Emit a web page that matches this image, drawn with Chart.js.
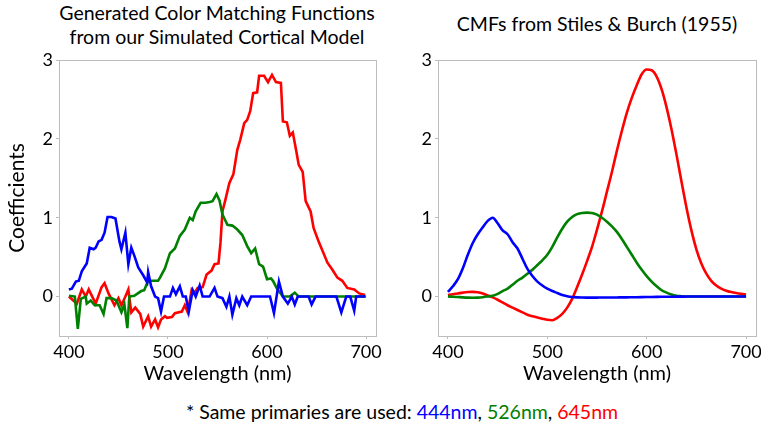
<!DOCTYPE html>
<html>
<head>
<meta charset="utf-8">
<script src="https://cdn.jsdelivr.net/npm/chart.js@4/dist/chart.umd.min.js"></script>
<style>
  html, body { margin: 0; padding: 0; background: #fff; width: 761px; height: 427px; overflow: hidden; position: relative; font-family: Lato, "Open Sans", sans-serif; }
  .box { position: absolute; top: 0; }
  .title { position: absolute; text-align: center; color: #000; font-size: 19.5px; line-height: 24px; white-space: nowrap; }
  #foot { position: absolute; top: 400px; left: 0; width: 804px; text-align: center; font-size: 19.5px; line-height: 24px; white-space: nowrap; }
</style>
</head>
<body>
<div class="title" style="left:17px; width:400px; top:1px;">Generated Color Matching Functions<br>from our Simulated Cortical Model</div>
<div class="title" style="left:397px; width:400px; top:12px;">CMFs from Stiles &amp; Burch (1955)</div>
<div class="box" style="left:0; width:400px; height:395px;"><canvas id="c1"></canvas></div>
<div class="box" style="left:380px; width:400px; height:395px;"><canvas id="c2"></canvas></div>
<div id="foot">* Same primaries are used: <span style="color:#0000ff">444nm</span>, <span style="color:#008000">526nm</span>, <span style="color:#ff0000">645nm</span></div>
<script>
// ---------- data ----------
const xTicks = [400, 500, 600, 700];
const yTicks = [0, 1, 2, 3];

// Left: simulated cortical model (noisy)
const simBlueX = [400,403,407,410,413,417,418,421,425,427,430,433,436,439,443,447,451,453,457,460,463,466,470,475,479,480,483,487,490,493,496,502,505,508,512,515,518,521,525,528,532,535,542,547,550,555,559,562,565,569,572,575,580,584,603,607,612,616,621,625,628,631,642,645,649,670,675,680,684,688,690,699];
const simBlueY = [0.09,0.10,0.19,0.20,0.32,0.40,0.42,0.62,0.60,0.62,0.70,0.72,0.81,1.01,1.01,0.99,0.70,0.60,0.81,0.41,0.62,0.52,0.37,0.27,0.18,0.31,0.13,0.00,-0.02,-0.19,0.00,0.00,0.11,0.03,0.13,0.00,0.00,-0.19,0.08,0.00,0.14,0.00,0.00,0.11,0.00,-0.02,-0.13,0.00,-0.23,-0.02,-0.11,0.00,-0.11,0.00,0.00,-0.21,0.19,0.00,-0.09,0.00,-0.10,0.00,0.00,-0.10,0.00,0.00,-0.20,0.00,0.00,-0.18,0.00,0.00];

const simGreenX = [400,406,409,412,417,418,422,426,431,435,438,443,448,453,456,459,461,466,473,476,480,490,492,497,502,507,512,517,522,525,528,533,538,542,545,549,552,555,560,565,570,575,580,584,588,592,596,600,604,606,610,616,623,628,632,700];
const simGreenY = [0.01,0.00,-0.41,-0.03,0.00,-0.09,-0.05,-0.11,-0.11,-0.22,-0.02,-0.02,-0.05,-0.20,-0.10,-0.40,0.00,0.01,0.07,0.08,0.20,0.20,0.24,0.36,0.55,0.61,0.77,0.85,1.00,0.97,1.08,1.19,1.19,1.20,1.21,1.30,1.22,1.04,0.91,0.90,0.85,0.78,0.64,0.55,0.61,0.41,0.38,0.22,0.23,0.20,0.10,0.00,0.00,0.05,0.00,0.00];

const simRedX = [400,408,413,417,420,427,433,436,440,446,450,453,457,460,463,467,472,475,480,483,487,490,493,497,499,504,507,514,517,520,524,527,530,535,539,544,547,551,553,555,558,562,566,570,573,577,580,583,586,590,592,597,601,605,609,614,616,620,623,626,629,632,636,639,644,647,652,661,666,671,676,681,688,693,699];
const simRedY = [0.00,-0.09,0.09,0.00,0.09,-0.09,0.12,0.17,0.04,-0.11,-0.02,-0.11,0.00,0.09,-0.20,-0.14,-0.22,-0.38,-0.25,-0.38,-0.29,-0.39,-0.29,-0.25,-0.27,-0.26,-0.21,-0.19,-0.11,-0.20,0.09,0.05,0.11,0.12,0.28,0.33,0.41,0.42,0.68,1.08,1.23,1.44,1.55,1.86,1.99,2.20,2.24,2.35,2.58,2.59,2.80,2.80,2.72,2.81,2.72,2.71,2.22,2.21,2.04,2.08,1.88,1.67,1.58,1.21,1.08,0.87,0.70,0.43,0.34,0.24,0.20,0.11,0.09,0.04,0.02];

// Right: Stiles & Burch (1955), 5 nm steps 400..700
const sbWave = [400,405,410,415,420,425,430,435,440,445,450,455,460,465,470,475,480,485,490,495,500,505,510,515,520,525,530,535,540,545,550,555,560,565,570,575,580,585,590,595,600,605,610,615,620,625,630,635,640,645,650,655,660,665,670,675,680,685,690,695,700];
const sbBlue = [0.06,0.13,0.22,0.36,0.53,0.68,0.79,0.88,0.96,1.00,0.93,0.84,0.79,0.69,0.61,0.48,0.35,0.26,0.19,0.14,0.10,0.07,0.045,0.02,0.005,-0.005,-0.01,-0.012,-0.013,-0.013,-0.013,-0.012,-0.012,-0.011,-0.011,-0.01,-0.01,-0.009,-0.008,-0.007,-0.006,-0.005,-0.004,-0.003,-0.002,-0.002,-0.001,-0.001,0,0,0,0,0,0,0,0,0,0,0,0,0];
const sbGreen = [0.0,-0.002,-0.006,-0.01,-0.013,-0.014,-0.013,-0.008,0.0,0.01,0.035,0.07,0.10,0.15,0.20,0.24,0.29,0.34,0.40,0.46,0.53,0.63,0.75,0.86,0.95,1.01,1.045,1.06,1.065,1.06,1.04,1.00,0.95,0.89,0.82,0.73,0.63,0.53,0.43,0.34,0.26,0.19,0.13,0.08,0.05,0.025,0.01,0.004,0,0,0,0,0,0,0,0,0,0,0,0,0];
const sbRed = [0.02,0.03,0.04,0.05,0.058,0.06,0.055,0.04,0.015,-0.01,-0.04,-0.075,-0.11,-0.14,-0.17,-0.20,-0.23,-0.25,-0.265,-0.28,-0.295,-0.30,-0.27,-0.22,-0.14,-0.03,0.12,0.28,0.45,0.63,0.85,1.08,1.33,1.58,1.85,2.10,2.33,2.52,2.68,2.82,2.88,2.87,2.79,2.63,2.40,2.12,1.80,1.46,1.13,0.84,0.60,0.42,0.29,0.20,0.14,0.10,0.075,0.058,0.045,0.035,0.027];

// ---------- helpers ----------
const pts = (xs, ys) => xs.map((x, i) => ({ x: x, y: ys[i] }));
const FONT = 'Lato, "Open Sans", sans-serif';
const BORDER = '#bdbdbd';

const framePlugin = {
  id: 'frame',
  afterDraw(chart) {
    const a = chart.chartArea, ctx = chart.ctx;
    ctx.save();
    ctx.strokeStyle = BORDER;
    ctx.lineWidth = 1;
    ctx.strokeRect(Math.round(a.left) + 0.5, Math.round(a.top) + 0.5, Math.round(a.right - a.left), Math.round(a.bottom - a.top));
    ctx.restore();
  }
};

function makeChart(id, sets, yAxisWidth, showYTitle, smooth) {
  const ds = sets.map(s => ({
    data: s.data, borderColor: s.color, backgroundColor: s.color,
    borderWidth: 2.6, pointRadius: 0, fill: false,
    tension: smooth ? 0.4 : 0, cubicInterpolationMode: smooth ? 'monotone' : 'default'
  }));
  return new Chart(document.getElementById(id), {
    type: 'line',
    data: { datasets: ds },
    options: {
      responsive: true, maintainAspectRatio: false, animation: false,
      layout: { padding: { top: 60, right: 24, left: 0, bottom: 0 } },
      plugins: { legend: { display: false }, tooltip: { enabled: false }, title: { display: false } },
      scales: {
        x: {
          type: 'linear', min: 390, max: 710,
          afterBuildTicks: s => { s.ticks = xTicks.map(v => ({ value: v })); },
          afterFit: s => { s.height = 59; },
          grid: { drawOnChartArea: false, drawTicks: true, tickLength: 3, color: BORDER },
          border: { display: false },
          ticks: { color: '#000', font: { family: FONT, size: 18 }, padding: 2, maxRotation: 0, autoSkip: false },
          title: { display: true, text: 'Wavelength (nm)', color: '#000', font: { family: FONT, size: 20 }, padding: { top: 0, bottom: 9 } }
        },
        y: {
          min: -0.5, max: 3,
          afterBuildTicks: s => { s.ticks = yTicks.map(v => ({ value: v })); },
          afterFit: s => { s.width = yAxisWidth; },
          grid: { drawOnChartArea: false, drawTicks: true, tickLength: 3, color: BORDER },
          border: { display: false },
          ticks: { color: '#000', font: { family: FONT, size: 18 }, padding: 3 },
          title: { display: showYTitle, text: 'Coefficients', color: '#000', font: { family: FONT, size: 21 }, padding: { top: 5, bottom: 0 } }
        }
      }
    },
    plugins: [framePlugin]
  });
}

makeChart('c1', [
  { data: pts(simBlueX, simBlueY), color: '#0000ff' },
  { data: pts(simGreenX, simGreenY), color: '#008000' },
  { data: pts(simRedX, simRedY), color: '#ff0000' }
], 59, true, false);

makeChart('c2', [
  { data: pts(sbWave, sbBlue), color: '#0000ff' },
  { data: pts(sbWave, sbGreen), color: '#008000' },
  { data: pts(sbWave, sbRed), color: '#ff0000' }
], 58, false, true);
</script>
</body>
</html>
